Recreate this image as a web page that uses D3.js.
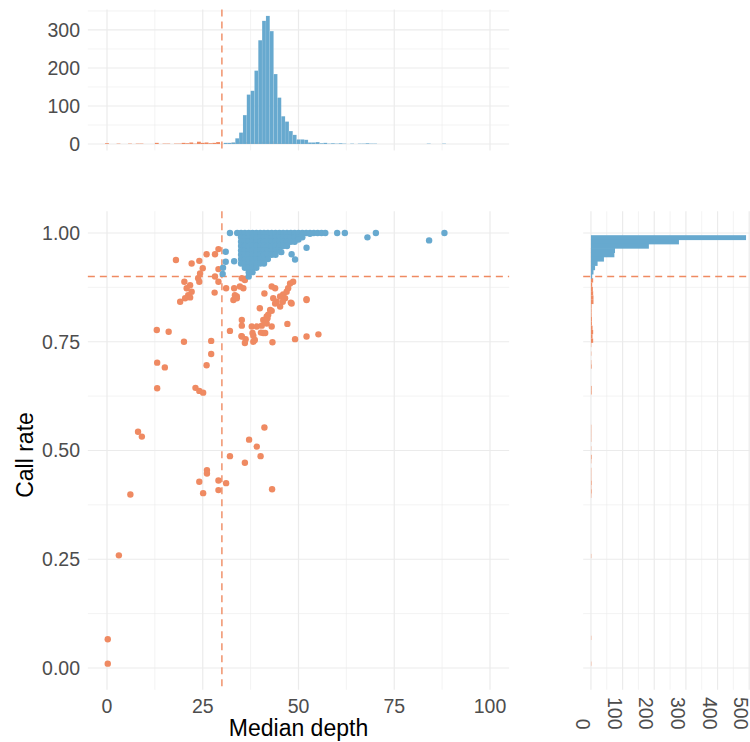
<!DOCTYPE html>
<html>
<head>
<meta charset="utf-8">
<script src="https://cdn.jsdelivr.net/npm/d3@7"></script>
<style>
  body { margin: 0; background: #fff; }
  svg { display: block; font-family: "Liberation Sans", Arial, Helvetica, sans-serif; }
  .tick-label { font-size: 19.5px; fill: #4d4d4d; }
  .axis-title { font-size: 23px; fill: #000; }
  .grid-major { stroke: #ebebeb; stroke-width: 1.2; }
  .grid-minor { stroke: #ebebeb; stroke-width: 0.6; }
  .cutoff { stroke: #ef8a62; stroke-width: 1.4; stroke-dasharray: 7 5; fill: none; }
</style>
</head>
<body>
<div class="container"></div>
<script>
// ---- data ----
const depthTicks = [0, 25, 50, 75, 100];
const depthMinor = [12.5, 37.5, 62.5, 87.5];
const rateTicks = [0, 0.25, 0.5, 0.75, 1];
const rateMinor = [0.125, 0.375, 0.625, 0.875];
const rateTickLabels = ["0.00", "0.25", "0.50", "0.75", "1.00"];
const depthCountTicks = [0, 100, 200, 300];
const depthCountMinor = [50, 150, 250, 350];
const rateCountTicks = [0, 100, 200, 300, 400, 500];
const rateCountMinor = [50, 150, 250, 350, 450];

const depthCutoff = 30;
const rateCutoff = 0.9;

// top histogram, passing samples (bin centres, width 1)
const passDepthBins   = [31, 32, 33, 34, 35, 36, 37, 38, 39, 40, 41, 42, 43, 44, 45, 46, 47, 48, 49, 50,
                         51, 52, 53, 54, 55, 56, 57, 58, 59, 60, 61, 62, 64, 66, 67, 68, 69, 70, 84, 88];
const passDepthCounts = [3, 3, 4, 15, 30, 76, 130, 140, 193, 273, 324, 337, 297, 184, 122, 73, 59, 34, 24, 12,
                         12, 11, 4, 4, 5, 2, 3, 1, 2, 1, 2, 1, 1, 1, 1, 2, 1, 1, 1, 1];

// side histogram, passing samples (bin centres, width 0.0099)
const passRateBins   = [0.9900, 0.9802, 0.9703, 0.9604, 0.9505, 0.9406, 0.9307, 0.9208, 0.9109, 0.9010];
const passRateCounts = [490, 278, 183, 76, 74, 41, 21, 13, 8, 4];

// [median depth, call rate]
const passPoints = [
  [34,1],[35,1],[36,1],[37,1],[38,1],[39,1],[40,1],[41,1],[42,1],[43,1],[44,1],[45,1],[46,1],[47,1],
  [48,1],[49,1],[50,1],[51,1],[52,1],[53,1],[54,1],[55,1],[56,1],
  [35,0.99],[36,0.99],[37,0.99],[38,0.99],[39,0.99],[40,0.99],[41,0.99],[42,0.99],[43,0.99],[44,0.99],
  [45,0.99],[46,0.99],[47,0.99],[48,0.99],[49,0.99],[50,0.99],[51,0.99],
  [35,0.98],[36,0.98],[37,0.98],[38,0.98],[39,0.98],[40,0.98],[41,0.98],[42,0.98],[43,0.98],[44,0.98],
  [45,0.98],[46,0.98],[47,0.98],[48,0.98],[49,0.98],
  [35,0.97],[36,0.97],[37,0.97],[38,0.97],[39,0.97],[40,0.97],[41,0.97],[42,0.97],[43,0.97],[44,0.97],
  [45,0.97],[46,0.97],[47,0.97],
  [35,0.96],[36,0.96],[37,0.96],[38,0.96],[39,0.96],[40,0.96],[41,0.96],[42,0.96],[43,0.96],[44,0.96],[45,0.96],
  [35,0.95],[36,0.95],[37,0.95],[38,0.95],[39,0.95],[40,0.95],[41,0.95],[42,0.95],[43,0.95],[44,0.95],
  [35,0.94],[36,0.94],[37,0.94],[38,0.94],[39,0.94],[40,0.94],[41,0.94],[42,0.94],
  [35,0.93],[36,0.93],[37,0.93],[38,0.93],[39,0.93],[40,0.93],[41,0.93],
  [36,0.92],[37,0.92],[38,0.92],[39,0.92],
  [37,0.91],[38,0.91],
  [37,0.90],
  [32.1,1],[31,0.957],[31,0.934],[30.3,0.92],[30.2,0.906],[33.2,0.935],
  [60.1,1],[62.1,1],[68,0.99],[70.2,1],[84.1,0.983],[88.1,1],
  [48.2,0.951],[49.1,0.939],[52.1,0.966],[50,0.985],[45.5,0.956],[57,1],[53,0.998]
];

const failPoints = [
  [0.2,0.066],[0.2,0.010],[3.1,0.259],[6.1,0.399],[8.1,0.543],[9.1,0.532],
  [13.0,0.777],[16.1,0.773],[20.1,0.750],[27.2,0.752],[27.2,0.722],[26.0,0.696],[13.1,0.702],[15.1,0.691],
  [13.1,0.643],[23.1,0.644],[24.1,0.637],[25.1,0.633],
  [41.1,0.553],[37.1,0.525],[39.1,0.509],[40.1,0.487],[32.1,0.487],[36.0,0.472],[26.1,0.455],[26.1,0.447],
  [24.1,0.428],[29.1,0.431],[31.1,0.425],[25.1,0.402],[29.1,0.409],[43.1,0.411],
  [18.0,0.938],[22.1,0.930],[24.1,0.936],[25.0,0.919],[24.3,0.907],[23.8,0.896],[26.0,0.951],[28.2,0.951],
  [29.1,0.963],[29.1,0.917],[28.2,0.900],[29.1,0.888],[20.2,0.888],[21.7,0.880],[20.8,0.873],[22.1,0.865],
  [21.2,0.857],[20.4,0.850],[19.1,0.842],[21.7,0.852],[24.1,0.888],[31.1,0.873],[28.1,0.863],[33.2,0.873],
  [33.9,0.854],[32.1,0.775],[33.0,0.846],
  [35.2,0.896],[36.0,0.892],[34.7,0.877],[33.4,0.857],[33.9,0.850],[35.6,0.873],[41.1,0.861],[43.0,0.877],
  [43.9,0.873],[43.4,0.850],[44.3,0.842],[45.2,0.854],[46.0,0.859],[46.5,0.850],[46.9,0.865],[47.3,0.873],
  [47.8,0.884],[48.6,0.888],[48.2,0.838],[52.1,0.848],[39.9,0.827],[42.6,0.823],[41.7,0.808],[40.8,0.800],
  [35.2,0.800],[35.2,0.787],[37.8,0.785],[39.1,0.785],[40.4,0.787],[41.7,0.792],[40.8,0.770],[43.0,0.785],
  [47.1,0.791],[38.2,0.764],[38.2,0.750],[35.2,0.762],[36.0,0.747],[38.6,0.754],[43.2,0.749],[49.1,0.756],
  [52.1,0.762],[55.2,0.767],[35.1,0.763],[36.2,0.756],[38.0,0.770],[40.2,0.771],[41.3,0.770],[41.3,0.794],
  [41.9,0.804],[42.1,0.812],[43.0,0.821],[43.9,0.838],[45.2,0.831],[45.9,0.842],[48.0,0.840],[52.1,0.846]
];

const passColor = "#67a9cf";
const failColor = "#ef8a62";

// ---- layout ----
const width = 750, height = 742;
const mainBox = {left: 87.85, right: 509.15, top: 211.25, bottom: 689.75};
const topBox  = {left: 87.85, right: 509.15, top: 9.5,    bottom: 150.4};
const sideBox = {left: 583.2, right: 753.8,  top: 211.25, bottom: 689.75};

const svg = d3.select(".container")
  .append("svg")
    .attr("width", width)
    .attr("height", height);

const x = d3.scaleLinear().domain([-5, 105]).range([mainBox.left, mainBox.right]);
const y = d3.scaleLinear().domain([-0.05, 1.05]).range([mainBox.bottom, mainBox.top]);
const yTop = d3.scaleLinear().domain([-16.85, 353.85]).range([topBox.bottom, topBox.top]);
const xSide = d3.scaleLinear().domain([-24.5, 514.5]).range([sideBox.left, sideBox.right]);

function vLines(g, scale, values, box, cls) {
  g.selectAll(null).data(values).enter().append("line")
    .attr("class", cls)
    .attr("x1", d => scale(d)).attr("x2", d => scale(d))
    .attr("y1", box.top).attr("y2", box.bottom);
}

function hLines(g, scale, values, box, cls) {
  g.selectAll(null).data(values).enter().append("line")
    .attr("class", cls)
    .attr("y1", d => scale(d)).attr("y2", d => scale(d))
    .attr("x1", box.left).attr("x2", box.right);
}

const grid = svg.append("g");
// main panel grid
vLines(grid, x, depthMinor, mainBox, "grid-minor");
hLines(grid, y, rateMinor, mainBox, "grid-minor");
vLines(grid, x, depthTicks, mainBox, "grid-major");
hLines(grid, y, rateTicks, mainBox, "grid-major");
// top panel grid
vLines(grid, x, depthMinor, topBox, "grid-minor");
hLines(grid, yTop, depthCountMinor, topBox, "grid-minor");
vLines(grid, x, depthTicks, topBox, "grid-major");
hLines(grid, yTop, depthCountTicks, topBox, "grid-major");
// side panel grid
vLines(grid, xSide, rateCountMinor, sideBox, "grid-minor");
hLines(grid, y, rateMinor, sideBox, "grid-minor");
vLines(grid, xSide, rateCountTicks, sideBox, "grid-major");
hLines(grid, y, rateTicks, sideBox, "grid-major");

// ---- top histogram ----
const failDepthBins = d3.bin()
  .value(d => d[0])
  .domain([-0.5, 100.5])
  .thresholds(d3.range(-0.5, 100.5, 1))(failPoints)
  .filter(b => b.length > 0);

const topHist = svg.append("g");
topHist.selectAll(".fail-bar")
  .data(failDepthBins)
  .enter().append("rect")
    .attr("fill", failColor)
    .attr("x", d => x(d.x0))
    .attr("width", d => x(d.x1) - x(d.x0))
    .attr("y", d => yTop(d.length))
    .attr("height", d => yTop(0) - yTop(d.length));

topHist.selectAll(".pass-bar")
  .data(passDepthBins)
  .enter().append("rect")
    .attr("fill", passColor)
    .attr("stroke", "rgba(255,255,255,0.2)")
    .attr("stroke-width", 0.4)
    .attr("x", d => x(d - 0.5))
    .attr("width", x(1) - x(0))
    .attr("y", (d, i) => yTop(passDepthCounts[i]))
    .attr("height", (d, i) => yTop(0) - yTop(passDepthCounts[i]));

// ---- side histogram ----
const rateWidth = 0.0099;
const failRateBins = d3.bin()
  .value(d => d[1])
  .domain([0.005, 0.995])
  .thresholds(d3.range(0.005, 0.995, rateWidth))(failPoints)
  .filter(b => b.length > 0);

const sideHist = svg.append("g");
sideHist.selectAll(".fail-bar")
  .data(failRateBins)
  .enter().append("rect")
    .attr("fill", failColor)
    .attr("x", xSide(0))
    .attr("width", d => xSide(d.length) - xSide(0))
    .attr("y", d => y(d.x1))
    .attr("height", d => y(d.x0) - y(d.x1));

// bars touch each other; a hair of overlap hides the anti-aliasing seams
sideHist.selectAll(".pass-bar")
  .data(passRateBins)
  .enter().append("rect")
    .attr("fill", passColor)
    .attr("x", xSide(0))
    .attr("width", (d, i) => xSide(passRateCounts[i]) - xSide(0))
    .attr("y", d => y(d + rateWidth / 2))
    .attr("height", d => y(d - rateWidth / 2) - y(d + rateWidth / 2) + 0.6);

// ---- cutoff lines ----
const cut = svg.append("g");
cut.append("line").attr("class", "cutoff")
  .attr("x1", x(depthCutoff)).attr("x2", x(depthCutoff))
  .attr("y1", topBox.top).attr("y2", topBox.bottom);
cut.append("line").attr("class", "cutoff")
  .attr("x1", x(depthCutoff)).attr("x2", x(depthCutoff))
  .attr("y1", mainBox.top).attr("y2", mainBox.bottom);
cut.append("line").attr("class", "cutoff")
  .attr("x1", mainBox.left).attr("x2", mainBox.right)
  .attr("y1", y(rateCutoff)).attr("y2", y(rateCutoff));
cut.append("line").attr("class", "cutoff")
  .attr("x1", sideBox.left).attr("x2", sideBox.right)
  .attr("y1", y(rateCutoff)).attr("y2", y(rateCutoff));

// ---- scatter ----
const dots = svg.append("g");
dots.selectAll(".fail")
  .data(failPoints)
  .enter().append("circle")
    .attr("cx", d => x(d[0]))
    .attr("cy", d => y(d[1]))
    .attr("r", 3.2)
    .attr("fill", failColor);

dots.selectAll(".pass")
  .data(passPoints)
  .enter().append("circle")
    .attr("cx", d => x(d[0]))
    .attr("cy", d => y(d[1]))
    .attr("r", 3.2)
    .attr("fill", passColor);

// ---- axis labels ----
const labels = svg.append("g");

labels.selectAll(".xl")
  .data(depthTicks)
  .enter().append("text")
    .attr("class", "tick-label")
    .attr("x", d => x(d))
    .attr("y", 713)
    .attr("text-anchor", "middle")
    .text(d => d);

labels.selectAll(".yl")
  .data(rateTicks)
  .enter().append("text")
    .attr("class", "tick-label")
    .attr("x", 80)
    .attr("y", d => y(d))
    .attr("dy", "0.35em")
    .attr("text-anchor", "end")
    .text((d, i) => rateTickLabels[i]);

labels.selectAll(".tl")
  .data(depthCountTicks)
  .enter().append("text")
    .attr("class", "tick-label")
    .attr("x", 80)
    .attr("y", d => yTop(d))
    .attr("dy", "0.35em")
    .attr("text-anchor", "end")
    .text(d => d);

// rotated count labels under the side histogram; keep the last one inside the page
labels.selectAll(".sl")
  .data(rateCountTicks)
  .enter().append("text")
    .attr("class", "tick-label")
    .attr("transform", d => "translate(" + Math.min(xSide(d), 748.5) + ",729.5) rotate(90)")
    .attr("x", 0)
    .attr("y", 15)
    .attr("text-anchor", "end")
    .text(d => d);

labels.append("text")
  .attr("class", "axis-title")
  .attr("x", (mainBox.left + mainBox.right) / 2)
  .attr("y", 736)
  .attr("text-anchor", "middle")
  .text("Median depth");

labels.append("text")
  .attr("class", "axis-title")
  .attr("transform", "translate(33,455) rotate(-90)")
  .attr("text-anchor", "middle")
  .text("Call rate");
</script>
</body>
</html>
